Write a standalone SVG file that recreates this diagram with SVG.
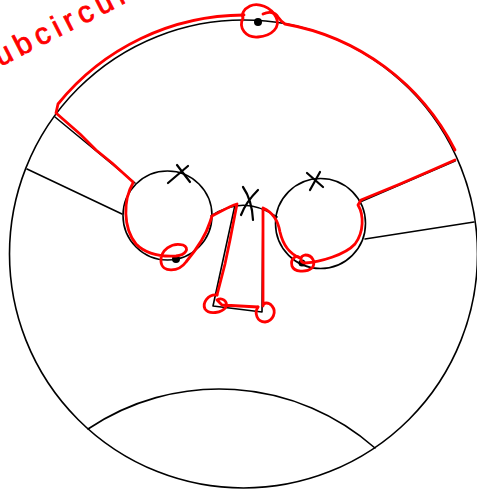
<svg xmlns="http://www.w3.org/2000/svg" width="477" height="495" viewBox="0 0 477 495">
<style>
.k{fill:none;stroke:#000;stroke-width:1.6;stroke-linecap:round;stroke-linejoin:round}
.x{fill:none;stroke:#000;stroke-width:2.2;stroke-linecap:round}
.r{fill:none;stroke:#ff0000;stroke-width:2.8;stroke-linecap:round;stroke-linejoin:round}
.d{fill:#000}
.t{font-family:"Liberation Sans",Arial,sans-serif;font-size:30px;fill:#ff0000;stroke:#ff0000;stroke-width:0.8;letter-spacing:5.5px}
</style>
<rect width="477" height="495" fill="#fff"/>
<g id="outer">
<circle class="k" cx="243.5" cy="254" r="234"/>
<path class="k" d="M 88,429 A 235 235 0 0 1 375,448"/>
</g>
<g id="left-circle">
<circle class="k" cx="167.5" cy="215.5" r="44.5"/>
<path class="x" d="M 168,183 L 188,166 M 177,165 L 190,182"/>
<circle class="d" cx="176" cy="259" r="4"/>
</g>
<g id="right-circle">
<circle class="k" cx="320.5" cy="223.5" r="45"/>
<path class="x" d="M 307,173 L 323,187 M 320,172 L 310,190"/>
<circle class="d" cx="302" cy="263" r="3.5"/>
</g>
<g id="middle">
<path class="x" d="M 243,187 Q 252,200 253,220 M 258,190 Q 246,202 241,215"/>
</g>
<g id="top-dot">
<circle class="d" cx="258" cy="22" r="4"/>
</g>
<g id="connectors">
<path class="k" d="M 55,117 L 135,183"/>
<path class="k" d="M 27,169 L 122,214"/>
<path class="k" d="M 455,161 L 360,202"/>
<path class="k" d="M 474,222 L 365,239"/>
<path class="k" d="M 211,216 Q 244,194 277,217"/>
<path class="k" d="M 235,205 L 213,306 L 262,312 L 263,208"/>
</g>
<g id="subcircuit">
<text class="t" transform="translate(-18,76) rotate(-27)">subcircuit</text>
<path class="r" d="M 244,15 A 240 240 0 0 0 58,104 L 56,113 L 80,134 L 96,150 L 112,163 L 133,182"/>
<path class="r" d="M 133,183 C 123,200 123,228 136,244 C 145,253 160,257 176,256 C 186,255 190,248 183,245 C 172,242 160,250 161,262 C 162,272 178,273 186,262 C 196,250 205,238 210,222 L 212,216 C 220,212 230,206 237,204 L 230,240 L 225,264 L 217,295"/>
<path class="r" d="M 217,295 C 208,294 202,303 205,309 C 209,315 222,313 226,307 C 228,301 222,297 217,300 L 222,305 L 258,307"/>
<path class="r" d="M 258,307 C 254,313 257,322 265,322 C 273,321 277,312 272,306 C 269,302 263,302 263,306 L 263,208 C 272,212 278,220 280,232 C 283,245 290,254 300,258"/>
<path class="r" d="M 300,258 C 296,254 290,259 292,266 C 294,272 306,273 312,268 C 316,263 313,255 305,255 C 300,256 299,262 305,263 C 320,262 345,255 355,244 C 364,232 364,215 358,205 L 361,200 L 400,184 L 430,171 L 455,160"/>
<path class="r" d="M 243,18 C 238,28 246,38 258,37 C 272,36 281,27 276,17 C 271,7 258,2 250,6 C 244,9 241,14 243,18"/>
<path class="r" d="M 263,14 C 269,11 275,12 278,17 C 280,20 282,22 285,24 A 237 237 0 0 1 455,150"/>
</g>
</svg>
